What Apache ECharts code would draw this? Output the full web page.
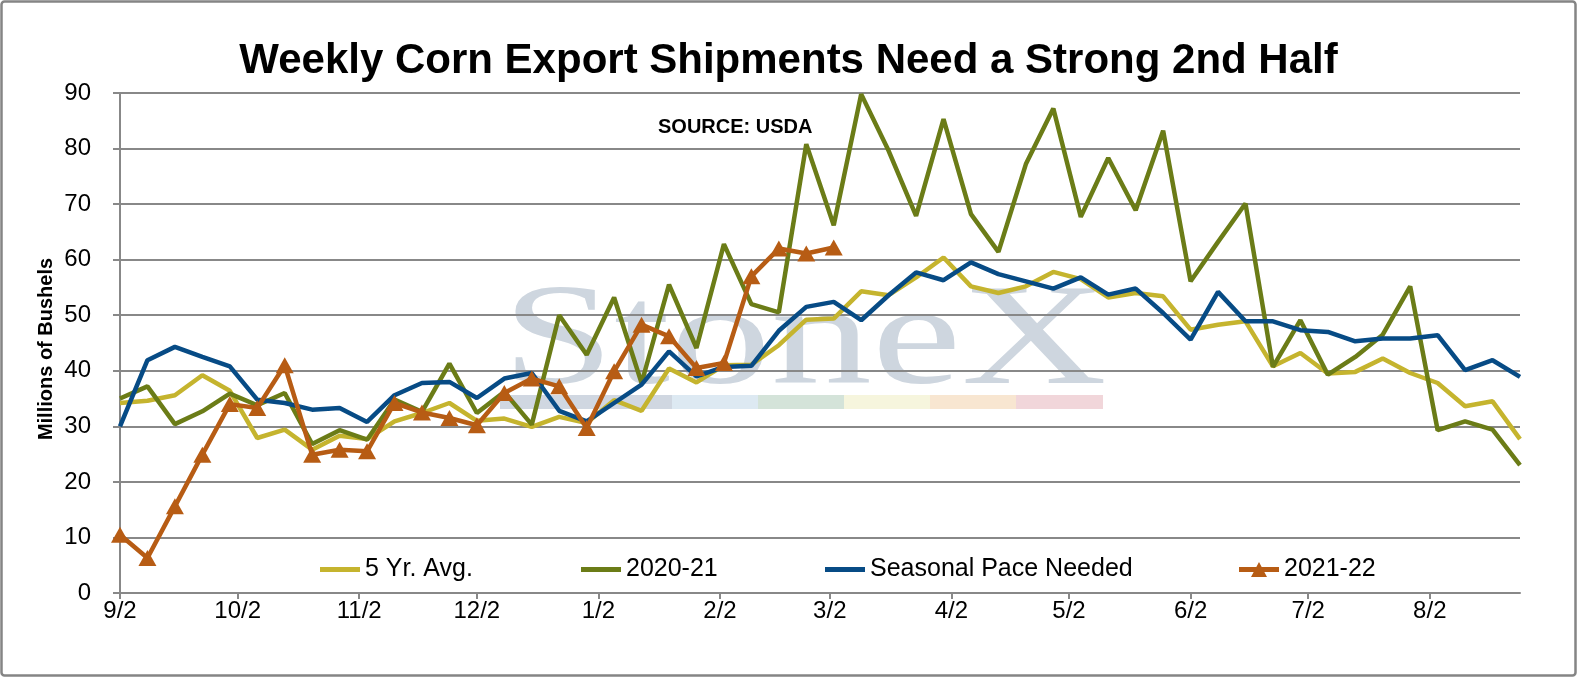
<!DOCTYPE html>
<html>
<head>
<meta charset="utf-8">
<script src="https://cdn.jsdelivr.net/npm/echarts@6/dist/echarts.min.js"></script>
<style>
  html, body { margin: 0; padding: 0; background: #fff; }
  #chart { width: 1577px; height: 677px; }
</style>
</head>
<body>
<div id="chart"></div>
<script>
// x axis: days counted from 9/2, one point per week
const tickLabels = ['9/2', '10/2', '11/2', '12/2', '1/2', '2/2', '3/2', '4/2', '5/2', '6/2', '7/2', '8/2'];
const tickDays = [0, 30, 61, 91, 122, 153, 181, 212, 242, 273, 303, 334];
const lastDay = 357;

const fiveYrAvg = [34.2, 34.6, 35.6, 39.2, 36.4, 27.9, 29.4, 25.8, 28.3, 27.7, 30.9, 32.4, 34.2, 31.0,
  31.4, 29.9, 31.7, 30.6, 34.7, 32.8, 40.4, 37.9, 41.0, 41.1, 44.6, 49.2, 49.4, 54.3, 53.6, 56.8,
  60.4, 55.2, 54.0, 55.2, 57.8, 56.5, 53.2, 54.0, 53.4, 47.4, 48.3, 48.9, 40.8, 43.2, 39.5, 39.8,
  42.2, 39.6, 37.8, 33.6, 34.5, 27.7];
const season2021 = [35.0, 37.2, 30.4, 32.7, 35.9, 33.8, 36.0, 26.8, 29.3, 27.6, 34.8, 32.6, 41.3, 32.4,
  36.2, 30.3, 50.0, 42.9, 53.2, 37.8, 55.5, 44.1, 62.8, 52.0, 50.5, 80.8, 66.2, 89.8, 79.6, 67.9,
  85.3, 68.2, 61.4, 77.2, 87.2, 67.7, 78.3, 68.9, 83.2, 56.1, 63.2, 70.1, 40.7, 49.1, 39.3, 42.5,
  46.5, 55.2, 29.3, 30.9, 29.4, 23.0];
const paceNeeded = [30.0, 41.9, 44.3, 42.5, 40.8, 34.8, 34.2, 33.0, 33.3, 30.8, 35.6, 37.8, 38.0, 35.1,
  38.6, 39.6, 32.8, 30.9, 34.2, 37.5, 43.5, 39.0, 40.7, 40.9, 47.2, 51.5, 52.4, 49.1, 53.6, 57.7,
  56.3, 59.5, 57.4, 56.1, 54.8, 56.8, 53.7, 54.8, 50.4, 45.6, 54.2, 48.9, 48.9, 47.3, 47.0, 45.3,
  45.8, 45.8, 46.4, 40.1, 41.9, 38.9];
const season2122 = [10.5, 6.3, 15.6, 24.9, 34.0, 33.3, 41.0, 24.9, 25.8, 25.5, 34.2, 32.5, 31.5, 30.2,
  36.0, 38.6, 37.2, 29.7, 39.9, 48.3, 46.2, 40.5, 41.4, 57.0, 62.0, 61.1, 62.2];

const seriesNames = ['5 Yr. Avg.', '2020-21', 'Seasonal Pace Needed', '2021-22'];
const colors = ['#c5b42e', '#6b7c17', '#074b85', '#b75c14'];

function weekly(values) {
  return values.map((v, i) => [i * 7, v]);
}

const FONT = '"Liberation Sans", Arial, sans-serif';
const lineIcon = 'path://M0,6h40v5h-40z';
const triIcon = 'path://M0,6h40v5h-40z M12,16 L20,1 L28,16 Z';
const legendLeft = [320, 581, 825, 1239];

function legendFor(i) {
  return {
    data: [{ name: seriesNames[i], icon: i === 3 ? triIcon : lineIcon }],
    left: legendLeft[i],
    top: 557,
    padding: 0,
    itemWidth: 40,
    itemHeight: 17,
    itemGap: 0,
    itemStyle: { borderWidth: 0 },
    textStyle: { fontFamily: FONT, fontSize: 25, color: '#000' }
  };
}

const chart = echarts.init(document.getElementById('chart'), null, { renderer: 'canvas' });

const option = {
  backgroundColor: '#ffffff',
  animation: false,
  color: colors,
  title: {
    text: 'Weekly Corn Export Shipments Need a Strong 2nd Half',
    left: 'center',
    top: 35,
    textStyle: { fontFamily: FONT, fontSize: 42, fontWeight: 'bold', color: '#000' }
  },
  legend: [legendFor(0), legendFor(1), legendFor(2), legendFor(3)],
  grid: { left: 120, right: 57, top: 93, bottom: 84 },
  xAxis: {
    type: 'value',
    min: 0,
    max: lastDay,
    axisLine: { show: true, lineStyle: { color: '#888', width: 2 } },
    axisTick: { show: true, length: 6, customValues: tickDays, lineStyle: { color: '#888', width: 2 } },
    axisLabel: {
      customValues: tickDays,
      margin: 6,
      fontFamily: FONT,
      fontSize: 24,
      color: '#000',
      formatter: v => tickLabels[tickDays.indexOf(v)]
    },
    splitLine: { show: false }
  },
  yAxis: {
    type: 'value',
    min: 0,
    max: 90,
    interval: 10,
    axisLine: { show: true, lineStyle: { color: '#888', width: 2 } },
    axisTick: { show: true, length: 7, lineStyle: { color: '#888', width: 2 } },
    axisLabel: { margin: 29, fontFamily: FONT, fontSize: 24, color: '#000' },
    splitLine: { lineStyle: { color: '#888', width: 2 } }
  },
  graphic: [
    // chart area border
    { type: 'rect', shape: { x: 1.5, y: 1.5, width: 1574, height: 674, r: 3 },
      style: { fill: 'none', stroke: '#858585', lineWidth: 2.5 }, silent: true },
    // StoneX watermark
    { type: 'text', z: -1, x: 502, y: 345, scaleX: 1.4,
      style: { text: 'StoneX', font: '144px "Liberation Serif", "Times New Roman", serif',
        fill: '#ced6df', verticalAlign: 'middle' }, silent: true },
    { type: 'rect', z: -1, shape: { x: 500, y: 395, width: 172, height: 14 }, style: { fill: '#d0d7e1' }, silent: true },
    { type: 'rect', z: -1, shape: { x: 672, y: 395, width: 86, height: 14 }, style: { fill: '#dde9f2' }, silent: true },
    { type: 'rect', z: -1, shape: { x: 758, y: 395, width: 86, height: 14 }, style: { fill: '#d4e3d9' }, silent: true },
    { type: 'rect', z: -1, shape: { x: 844, y: 395, width: 86, height: 14 }, style: { fill: '#f6f5dd' }, silent: true },
    { type: 'rect', z: -1, shape: { x: 930, y: 395, width: 86, height: 14 }, style: { fill: '#f8e6d1' }, silent: true },
    { type: 'rect', z: -1, shape: { x: 1016, y: 395, width: 87, height: 14 }, style: { fill: '#f1d6da' }, silent: true },
    { type: 'text', x: 658, y: 127,
      style: { text: 'SOURCE: USDA', font: 'bold 20px "Liberation Sans", Arial, sans-serif',
        fill: '#000', verticalAlign: 'middle' }, silent: true },
    { type: 'text', x: 46, y: 349, rotation: Math.PI / 2,
      style: { text: 'Millions of Bushels', font: 'bold 20px "Liberation Sans", Arial, sans-serif',
        fill: '#000', align: 'center', verticalAlign: 'middle' }, silent: true }
  ],
  series: [
    { name: seriesNames[0], type: 'line', data: weekly(fiveYrAvg), symbol: 'none',
      lineStyle: { width: 4.5, color: colors[0] } },
    { name: seriesNames[1], type: 'line', data: weekly(season2021), symbol: 'none',
      lineStyle: { width: 4.5, color: colors[1] } },
    { name: seriesNames[2], type: 'line', data: weekly(paceNeeded), symbol: 'none',
      lineStyle: { width: 4.5, color: colors[2] } },
    { name: seriesNames[3], type: 'line', data: weekly(season2122), symbol: 'triangle',
      symbolSize: [18, 16], showAllSymbol: true,
      itemStyle: { color: colors[3] }, lineStyle: { width: 4.5, color: colors[3] } }
  ]
};

chart.setOption(option);
</script>
</body>
</html>
